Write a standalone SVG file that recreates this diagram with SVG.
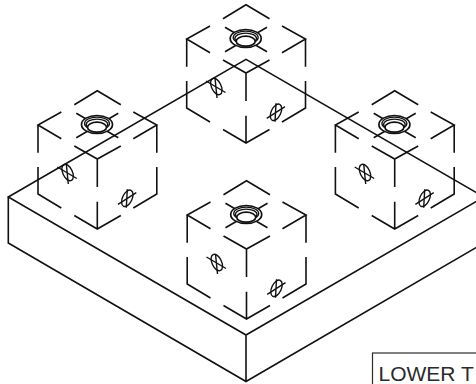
<svg xmlns="http://www.w3.org/2000/svg" width="476" height="384" viewBox="0 0 476 384">
<style>
.l{fill:none;stroke:#111;stroke-width:1.6;stroke-linejoin:miter}
.t{fill:none;stroke:#111;stroke-width:1.4}
.h{fill:#fff;stroke:#111;stroke-width:1.7}
.n{fill:none;stroke:#111;stroke-width:1.3}
text{font-family:"Liberation Sans",Arial,sans-serif;font-size:21px;fill:#2b2b2b}
</style>
<defs>
<g id="cube">
<path class="l" d="M223 18.7L246 4.7L269.5 18.7M210 26L186.7 39L210 52.7M223 60L246 73L269.5 60M282 52.7L305.5 39L282 26M186.7 39V66.7M186.7 81V108L210 122M223 129.5L246 143L269.5 129.5M282 122L305.5 108V81M305.5 66.7V39M246 73V101M246 115.7V143"/>
<path class="l" d="M225 27.3L267 51.7M267 27.3L225 51.7"/>
<ellipse class="h" cx="245.7" cy="38.500" rx="15.500" ry="9"/>
<ellipse class="n" cx="245.7" cy="37.500" rx="12.500" ry="6.400"/>
<ellipse class="n" cx="245.7" cy="38.500" rx="10.800" ry="5.400"/>
<ellipse class="h" cx="245.7" cy="41.200" rx="9.500" ry="5"/>
<ellipse class="t" cx="216.300" cy="86.500" rx="4.800" ry="8.800" transform="rotate(-25 216.300 86.500)"/>
<path class="t" d="M206 81L225.500 92.500M215 78L217 98"/>
<ellipse class="t" cx="276" cy="112.300" rx="4.800" ry="8.800" transform="rotate(25 276 112.300)"/>
<path class="t" d="M266.700 118.300L285 106.700M276 103.300L275 121.700"/>
</g>
</defs>
<g id="cube-top"><use href="#cube"/></g>
<g id="cube-left"><use href="#cube" x="-148.700" y="86"/></g>
<g id="cube-right"><use href="#cube" x="148.700" y="86"/></g>
<g id="cube-front"><use href="#cube" x="0.500" y="176"/></g>
<g id="plate">
<path class="l" d="M8.300 197L246 59.300L484 197L246 335ZM8.300 197V243L246 381.500L484 243M246 335V381.500"/>
</g>
<g id="label">
<rect x="372.500" y="353" width="130" height="50" fill="none" stroke="#2b2b2b" stroke-width="1.2"/>
<text x="378.500" y="380.500">LOWER T</text>
</g>
</svg>
